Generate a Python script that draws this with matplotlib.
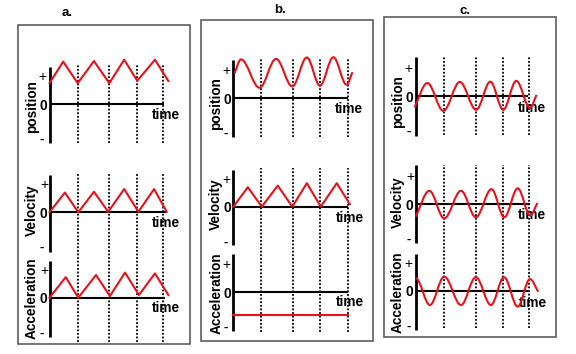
import matplotlib
matplotlib.use('Agg')
import matplotlib.pyplot as plt
from matplotlib.path import Path
from matplotlib.patches import PathPatch, Rectangle

W, H = 576, 354
PX_T = 28.5   # pixels per time unit
PX_V = 27.0   # pixels per value unit
RED = '#e5121c'

plt.rcParams['font.family'] = ['Liberation Sans', 'DejaVu Sans']

# ---- data (time units, value units; 0 = axis origin) ----
panel_titles = ['a.', 'b.', 'c.']
row_labels = ['position', 'Velocity', 'Acceleration']

# dotted period markers per column
a_dots = [0.99, 2.10, 3.06, 3.99]
b_dots = [0.96, 2.11, 3.04, 4.01]
c_dots = [1.00, 2.12, 3.06, 3.99]

# column a: triangle waves
a_pos_t = [0.0, 0.48, 0.99, 1.56, 2.10, 2.62, 3.08, 3.70, 4.17]
a_pos_v = [0.77, 1.57, 0.77, 1.59, 0.77, 1.64, 0.86, 1.64, 0.85]
a_vel_t = [0.0, 0.54, 1.01, 1.56, 2.06, 2.62, 3.12, 3.67, 4.11]
a_vel_v = [0.0, 0.73, 0.0, 0.76, 0.02, 0.86, 0.02, 0.86, 0.02]
a_acc_t = [0.0, 0.57, 1.01, 1.63, 2.12, 2.65, 3.14, 3.70, 4.17]
a_acc_v = [0.0, 0.76, 0.0, 0.84, 0.06, 0.93, 0.10, 0.90, 0.10]

# column b: smooth position, triangle velocity, constant acceleration
b_pos_t = [0.04, 0.27, 0.92, 1.50, 2.07, 2.58, 3.04, 3.51, 3.98, 4.18]
b_pos_v = [0.92, 1.44, 0.39, 1.46, 0.44, 1.51, 0.47, 1.52, 0.50, 0.97]
b_vel_t = [0.0, 0.51, 1.00, 1.56, 2.07, 2.58, 3.07, 3.63, 4.09]
b_vel_v = [0.0, 0.72, 0.0, 0.78, 0.0, 0.87, 0.0, 0.87, 0.09]
b_acc_t = [0.0, 4.01]
b_acc_v = [-0.84, -0.84]

# column c: smooth oscillations
c_pos_t = [-0.04, 0.41, 0.97, 1.55, 2.12, 2.62, 3.07, 3.53, 4.01, 4.24]
c_pos_v = [-0.42, 0.48, -0.55, 0.52, -0.51, 0.53, -0.51, 0.56, -0.44, 0.04]
c_vel_t = [0.0, 0.48, 1.00, 1.59, 2.11, 2.66, 3.11, 3.58, 4.02, 4.27]
c_vel_v = [-0.46, 0.50, -0.52, 0.50, -0.48, 0.56, -0.48, 0.59, -0.41, 0.05]
c_acc_t = [0.0, 0.50, 1.00, 1.59, 2.11, 2.64, 3.10, 3.58, 4.01, 4.30]
c_acc_v = [0.46, -0.53, 0.52, -0.53, 0.50, -0.53, 0.50, -0.59, 0.43, -0.04]


def smooth_path(ts, vs, start_flat=False, end_flat=False, k=0.36):
    # cubic Bezier pieces between extrema, flat tangent at the extrema
    verts = [(ts[0], vs[0])]
    codes = [Path.MOVETO]
    n = len(ts)
    for i in range(n - 1):
        x0, y0, x1, y1 = ts[i], vs[i], ts[i + 1], vs[i + 1]
        dx = x1 - x0
        if i == 0 and not start_flat:
            c1 = (x0 + dx / 3, y0 + (y1 - y0) / 3)
        else:
            c1 = (x0 + k * dx, y0)
        if i == n - 2 and not end_flat:
            c2 = (x1 - dx / 3, y1 - (y1 - y0) / 3)
        else:
            c2 = (x1 - k * dx, y1)
        verts += [c1, c2, (x1, y1)]
        codes += [Path.CURVE4] * 3
    return Path(verts, codes)


fig = plt.figure(figsize=(W / 100, H / 100), dpi=100)


def fx(x):
    return x / W


def fy(y):
    return 1 - y / H


def make_axes(ox, oy):
    t0, t1, v0, v1 = -1.0, 4.6, -1.8, 1.8
    ax = fig.add_axes([fx(ox + t0 * PX_T), fy(oy - v0 * PX_V),
                       (t1 - t0) * PX_T / W, (v1 - v0) * PX_V / H])
    ax.set_xlim(t0, t1)
    ax.set_ylim(v0, v1)
    ax.axis('off')
    return ax


def draw_frame(ax, label, label_xy, x_end, v_top, v_bot, time_xy, plus_x=-0.24):
    ax.plot([0, 0], [v_bot, v_top], color='black', lw=2.0, clip_on=False,
            solid_capstyle='butt', zorder=3)
    ax.plot([0, x_end], [0, 0], color='black', lw=1.5, clip_on=False,
            solid_capstyle='butt', zorder=3)
    ax.text(plus_x, 1.0, '+', fontsize=10, ha='center', va='center')
    ax.text(-0.21, -0.06, '0', fontsize=10, fontweight='bold', ha='center', va='center')
    ax.text(-0.26, -1.32, '-', fontsize=9.5, fontweight='bold', ha='center', va='center')
    ax.text(label_xy[0], label_xy[1], label, fontsize=9.8, fontweight='bold',
            rotation=90, ha='center', va='center')
    ax.text(time_xy[0], time_xy[1], 'time', fontsize=9.8, fontweight='bold',
            ha='center', va='center', zorder=4)


def draw_dots(ax, dots, top, bot):
    ax.vlines(dots, bot, top, colors='black', lw=1.3, linestyles=(0, (1, 1)),
              clip_on=False, zorder=1)


# boxes around each column
boxes = [(17.5, 25, 190, 344), (201, 20, 373, 341), (384, 17, 556, 337)]
for x0, y0, x1, y1 in boxes:
    fig.add_artist(Rectangle((fx(x0), fy(y1)), fx(x1 - x0), (y1 - y0) / H,
                             transform=fig.transFigure, fill=False,
                             edgecolor='#5e5e5e', lw=1.2))
title_pos = [(67, 13), (280, 10), (465, 11)]
for (tx, ty), t in zip(title_pos, panel_titles):
    fig.text(fx(tx), fy(ty), t, fontsize=9.5, fontweight='bold', ha='center', va='center')

# ---- column a ----
ax = make_axes(49.5, 104)
draw_dots(ax, a_dots, 1.48, -1.44)
draw_frame(ax, row_labels[0], (-0.6, -0.1), 4.02, 1.38, -1.44, (4.07, -0.41))
ax.plot(a_pos_t, a_pos_v, color=RED, lw=1.5, clip_on=False, zorder=5)

ax = make_axes(49.5, 212.3)
draw_dots(ax, a_dots, 1.46, -4.79)
draw_frame(ax, row_labels[1], (-0.63, 0.09), 4.11, 1.38, -1.46, (4.08, -0.41), plus_x=-0.19)
ax.plot(a_vel_t, a_vel_v, color=RED, lw=1.5, clip_on=False, zorder=5)

ax = make_axes(49.5, 297.7)
draw_frame(ax, row_labels[2], (-0.63, -0.02), 4.05, 1.37, -1.44, (4.07, -0.39), plus_x=-0.19)
ax.plot(a_acc_t, a_acc_v, color=RED, lw=1.5, clip_on=False, zorder=5)

# ---- column b ----
ax = make_axes(233.3, 98.3)
draw_dots(ax, b_dots, 1.49, -1.43)
draw_frame(ax, row_labels[0], (-0.6, -0.19), 4.04, 1.42, -1.44, (4.06, -0.41))
ax.add_patch(PathPatch(smooth_path(b_pos_t, b_pos_v), fill=False, edgecolor=RED,
                       lw=1.5, clip_on=False, zorder=5))

ax = make_axes(233.3, 206.7)
draw_dots(ax, b_dots, 1.43, -4.63)
draw_frame(ax, row_labels[1], (-0.6, 0.09), 4.01, 1.36, -1.42, (4.09, -0.41))
ax.plot(b_vel_t, b_vel_v, color=RED, lw=1.5, clip_on=False, zorder=5)

ax = make_axes(233.3, 292.3)
draw_frame(ax, row_labels[2], (-0.6, -0.04), 4.04, 1.41, -1.43, (4.09, -0.37))
ax.plot(b_acc_t, b_acc_v, color=RED, lw=1.5, clip_on=False, zorder=5)

# ---- column c ----
ax = make_axes(415.7, 96)
draw_dots(ax, c_dots, 1.46, -1.44)
draw_frame(ax, row_labels[0], (-0.62, -0.21), 3.95, 1.46, -1.48, (4.07, -0.46), plus_x=-0.26)
ax.add_patch(PathPatch(smooth_path(c_pos_t, c_pos_v), fill=False, edgecolor=RED,
                       lw=1.5, clip_on=False, zorder=5))

ax = make_axes(415.7, 204.3)
draw_dots(ax, c_dots, 1.46, -4.58)
draw_frame(ax, row_labels[1], (-0.62, 0.06), 4.01, 1.46, -1.44, (4.07, -0.40), plus_x=-0.2)
ax.add_patch(PathPatch(smooth_path(c_vel_t, c_vel_v), fill=False, edgecolor=RED,
                       lw=1.5, clip_on=False, zorder=5))

ax = make_axes(415.7, 290.7)
draw_frame(ax, row_labels[2], (-0.62, -0.04), 3.95, 1.36, -1.46, (4.13, -0.44), plus_x=-0.26)
ax.add_patch(PathPatch(smooth_path(c_acc_t, c_acc_v, start_flat=True), fill=False,
                       edgecolor=RED, lw=1.5, clip_on=False, zorder=5))

fig.savefig('out.png', dpi=100)
